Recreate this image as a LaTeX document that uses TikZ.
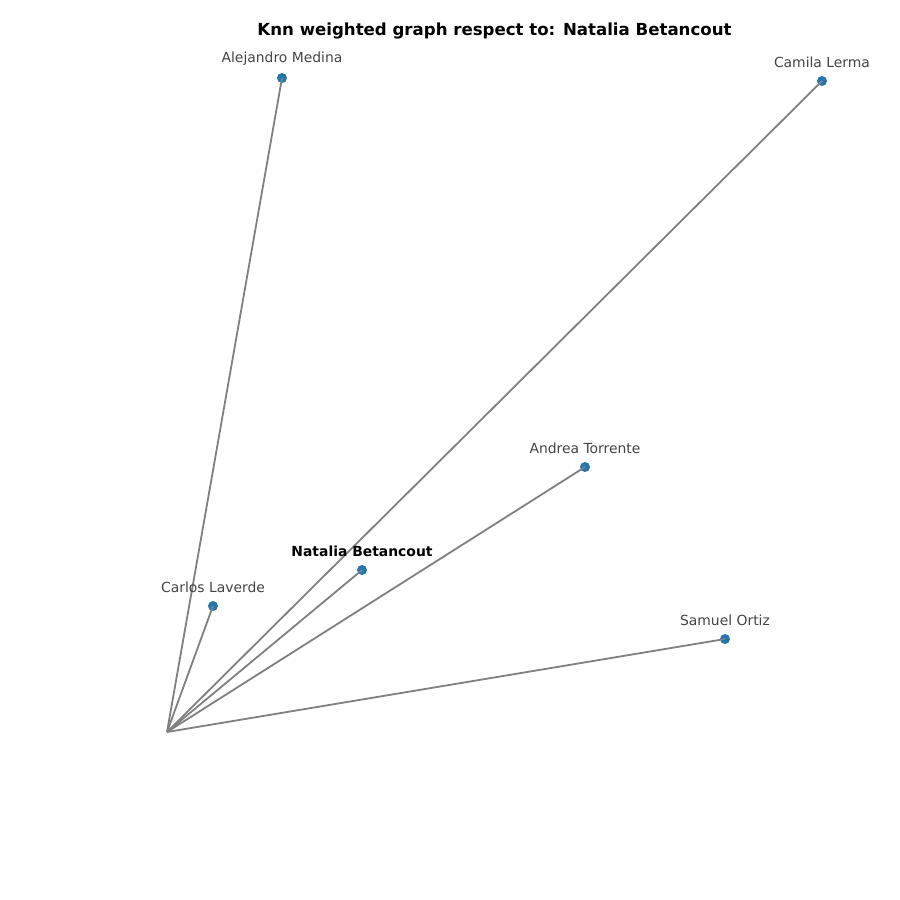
\documentclass[tikz,border=0pt]{standalone}
\usepackage{fontspec}
\setmainfont{DejaVu Sans}
\definecolor{nodeblue}{HTML}{1F77B4}
\definecolor{labgray}{HTML}{444444}
\begin{document}
\begin{tikzpicture}[x=1pt,y=-1pt,
  pt/.style={circle,fill=nodeblue,inner sep=0pt,minimum size=10pt},
  edge/.style={draw=gray,line width=1.8pt},
  lab/.style={text=labgray,font=\fontsize{13.9}{15}\selectfont,inner sep=0pt,anchor=center},
  boldlab/.style={text=black,font=\fontsize{13.9}{15}\selectfont\bfseries,inner sep=0pt,anchor=center}]
\useasboundingbox (0,0) rectangle (900,900);
\node[font=\fontsize{16.6}{18}\selectfont\bfseries,anchor=center] (title) at (494.5,31) {Knn weighted graph respect to: Natalia Betancout};
\coordinate (hub) at (167,732);
\node[pt] (am) at (282,78) {};
\node[pt] (cm) at (822,81) {};
\node[pt] (at) at (585,467) {};
\node[pt] (nb) at (362,570) {};
\node[pt] (cl) at (213,606) {};
\node[pt] (so) at (725,639) {};
\foreach \n in {am,cm,at,nb,cl,so} \draw[edge] (hub) -- (\n.center);
\node[lab] (lam) at (282,59) {Alejandro Medina};
\node[lab] (lcm) at (822,62) {Camila Lerma};
\node[lab] (lat) at (585,448) {Andrea Torrente};
\node[boldlab] (lnb) at (362,551) {Natalia Betancout};
\node[lab] (lcl) at (213,587) {Carlos Laverde};
\node[lab] (lso) at (725,620) {Samuel Ortiz};
\end{tikzpicture}
\end{document}
